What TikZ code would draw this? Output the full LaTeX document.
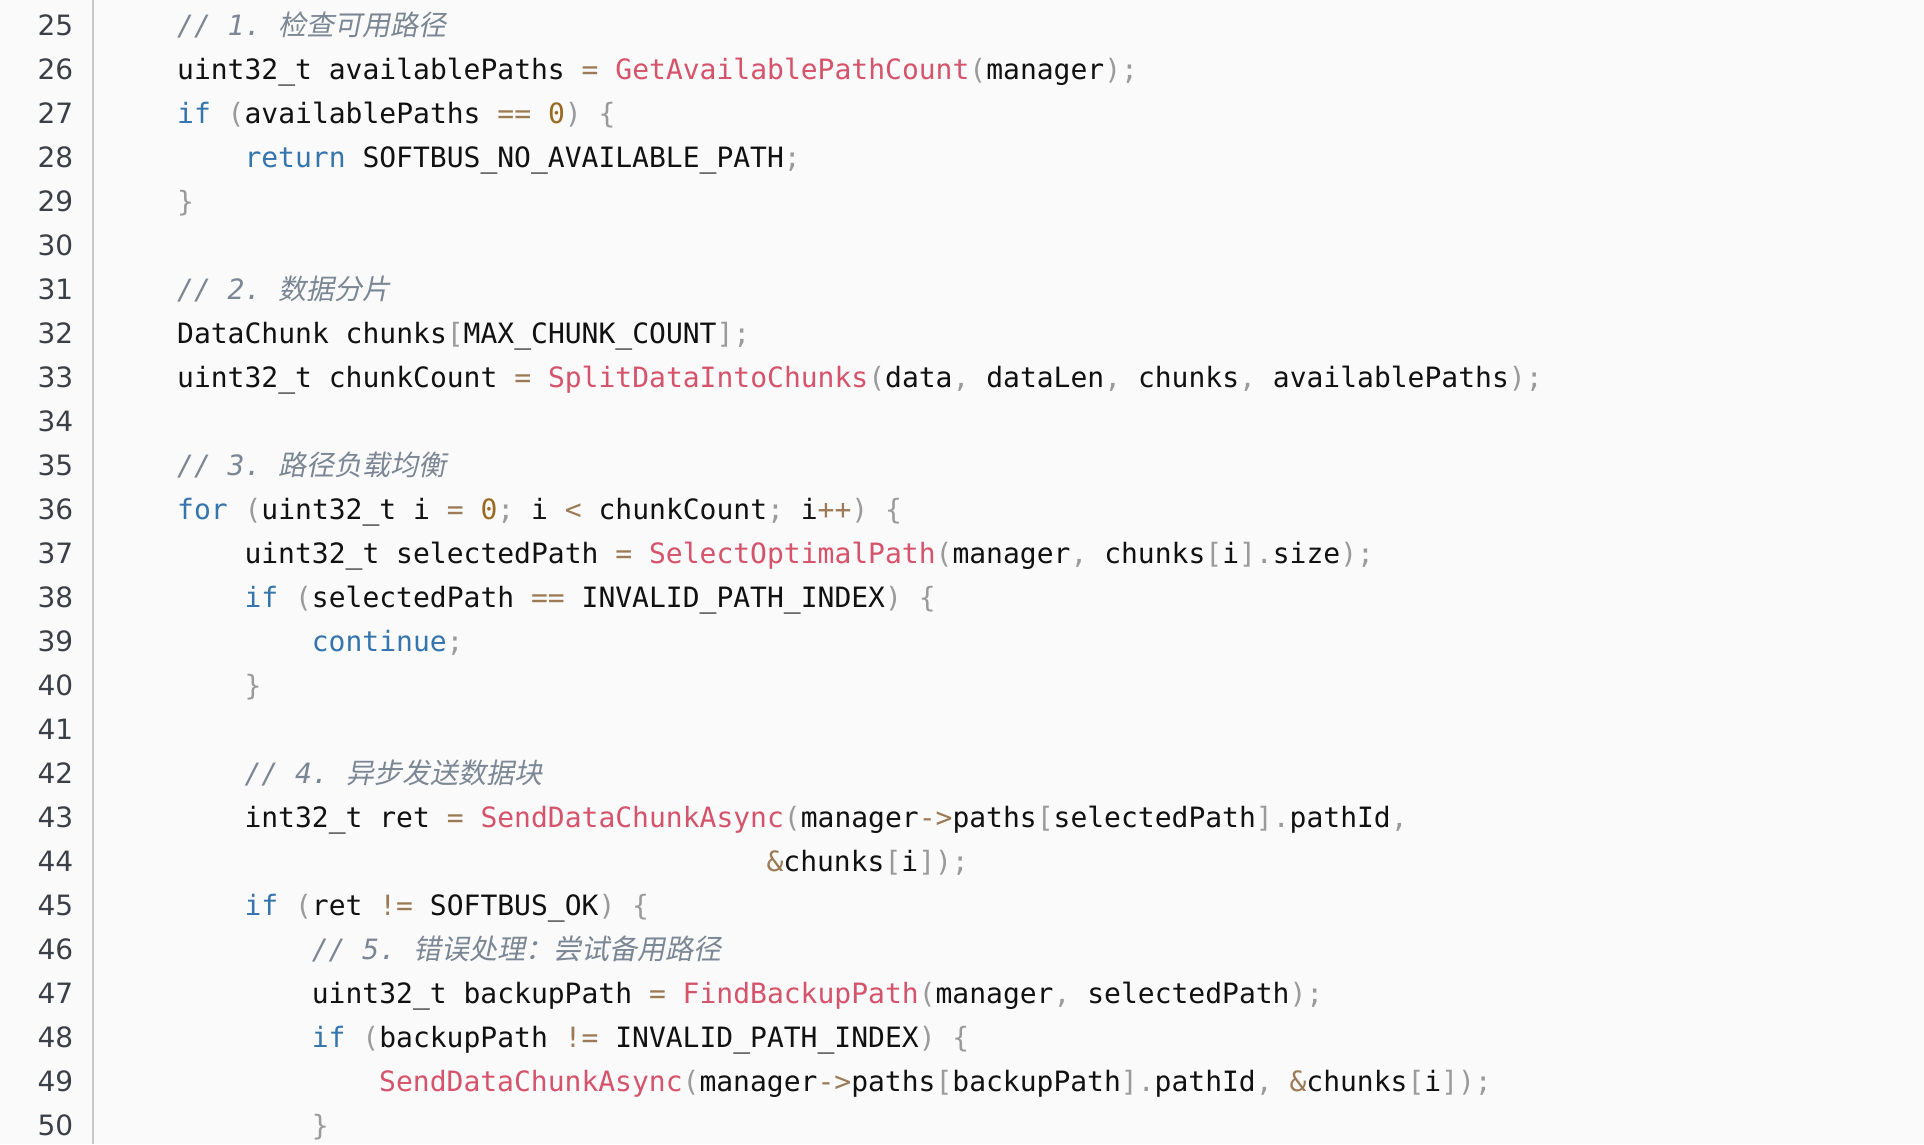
\documentclass[tikz,border=0pt]{standalone}
\usepackage{fontspec}
\newfontfamily\codefont{DejaVu Sans Mono}
\newfontfamily\numfont{DejaVu Sans}
\newfontfamily\cjk[FakeSlant=0.2]{Noto Sans CJK SC}

\definecolor{bgcol}{HTML}{FAFAFA}
\definecolor{kwcol}{HTML}{3575AD}
\definecolor{fncol}{HTML}{D5536B}
\definecolor{opcol}{HTML}{9C7A55}
\definecolor{numcol}{HTML}{9A6A20}
\definecolor{pncol}{HTML}{9A9A9A}
\definecolor{cmcol}{HTML}{7B8794}
\definecolor{txtcol}{HTML}{111111}
\definecolor{lncol}{HTML}{3B4048}
\definecolor{sepcol}{HTML}{C8C8C8}

\newcommand{\kw}[1]{\textcolor{kwcol}{#1}}
\newcommand{\fn}[1]{\textcolor{fncol}{#1}}
\newcommand{\op}[1]{\textcolor{opcol}{#1}}
\newcommand{\nm}[1]{\textcolor{numcol}{#1}}
\newcommand{\pn}[1]{\textcolor{pncol}{#1}}
\newcommand{\cm}[2]{\textcolor{cmcol}{\itshape #1\hspace{-5pt}\cjk #2}}

\tikzset{
  codeline/.style={anchor=base west, inner sep=0pt, text=txtcol,
    font=\codefont\fontsize{28}{44}\selectfont},
  lnum/.style={anchor=base east, inner sep=0pt, text=lncol,
    font=\numfont\fontsize{28}{44}\selectfont}
}

% column width, line height, origin
\pgfmathsetmacro{\cw}{16.84}
\pgfmathsetmacro{\lh}{44}
\pgfmathsetmacro{\xo}{109.6}
\pgfmathsetmacro{\yo}{35}
\newcommand{\codeat}[3]{\node[codeline] (c#1) at ({\xo+#2*\cw}, {-\yo-(#1-25)*\lh}) {#3};}

\begin{document}
\begin{tikzpicture}[x=1pt, y=1pt]
  \fill[bgcol] (0,0) rectangle (1924,-1144);
  \useasboundingbox (0,0) rectangle (1924,-1144);

  % gutter
  \coordinate (septop) at (92.7,0);
  \coordinate (sepbot) at (92.7,-1144);
  \draw[sepcol, line width=2pt] (septop) -- (sepbot);
  \foreach \n in {25,...,50} {
    \node[lnum] (ln\n) at (73.5, {-\yo-(\n-25)*\lh}) {\n};
  }

  % code
  \codeat{25}{4}{\cm{// 1. }{检查可用路径}}
  \codeat{26}{4}{uint32\_t availablePaths \op{=} \fn{GetAvailablePathCount}\pn{(}manager\pn{);}}
  \codeat{27}{4}{\kw{if} \pn{(}availablePaths \op{==} \nm{0}\pn{)} \pn{\{}}
  \codeat{28}{8}{\kw{return} SOFTBUS\_NO\_AVAILABLE\_PATH\pn{;}}
  \codeat{29}{4}{\pn{\}}}

  \codeat{31}{4}{\cm{// 2. }{数据分片}}
  \codeat{32}{4}{DataChunk chunks\pn{[}MAX\_CHUNK\_COUNT\pn{];}}
  \codeat{33}{4}{uint32\_t chunkCount \op{=} \fn{SplitDataIntoChunks}\pn{(}data\pn{,} dataLen\pn{,} chunks\pn{,} availablePaths\pn{);}}

  \codeat{35}{4}{\cm{// 3. }{路径负载均衡}}
  \codeat{36}{4}{\kw{for} \pn{(}uint32\_t i \op{=} \nm{0}\pn{;} i \op{<} chunkCount\pn{;} i\op{++}\pn{)} \pn{\{}}
  \codeat{37}{8}{uint32\_t selectedPath \op{=} \fn{SelectOptimalPath}\pn{(}manager\pn{,} chunks\pn{[}i\pn{].}size\pn{);}}
  \codeat{38}{8}{\kw{if} \pn{(}selectedPath \op{==} INVALID\_PATH\_INDEX\pn{)} \pn{\{}}
  \codeat{39}{12}{\kw{continue}\pn{;}}
  \codeat{40}{8}{\pn{\}}}

  \codeat{42}{8}{\cm{// 4. }{异步发送数据块}}
  \codeat{43}{8}{int32\_t ret \op{=} \fn{SendDataChunkAsync}\pn{(}manager\op{->}paths\pn{[}selectedPath\pn{].}pathId\pn{,}}
  \codeat{44}{39}{\op{\&}chunks\pn{[}i\pn{]);}}
  \codeat{45}{8}{\kw{if} \pn{(}ret \op{!=} SOFTBUS\_OK\pn{)} \pn{\{}}
  \codeat{46}{12}{\cm{// 5. }{错误处理：尝试备用路径}}
  \codeat{47}{12}{uint32\_t backupPath \op{=} \fn{FindBackupPath}\pn{(}manager\pn{,} selectedPath\pn{);}}
  \codeat{48}{12}{\kw{if} \pn{(}backupPath \op{!=} INVALID\_PATH\_INDEX\pn{)} \pn{\{}}
  \codeat{49}{16}{\fn{SendDataChunkAsync}\pn{(}manager\op{->}paths\pn{[}backupPath\pn{].}pathId\pn{,} \op{\&}chunks\pn{[}i\pn{]);}}
  \codeat{50}{12}{\pn{\}}}
\end{tikzpicture}
\end{document}
